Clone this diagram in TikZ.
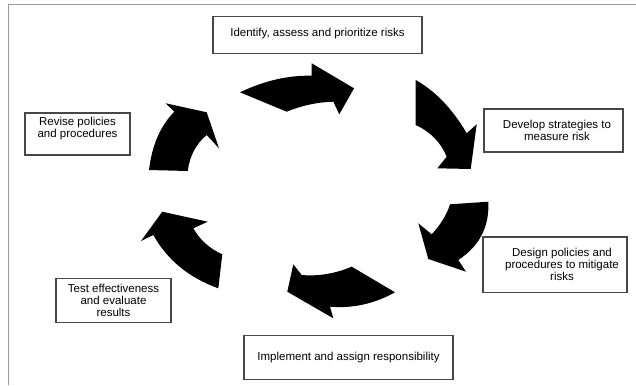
\documentclass[tikz,border=0pt]{standalone}
\usepackage{fontspec}
\setmainfont{Liberation Sans}
\begin{document}
\begin{tikzpicture}[x=1pt,y=-1pt,
  box/.style={draw=black!72, line width=1.1pt, align=center, inner sep=0pt,
    font=\fontsize{11.5}{12}\selectfont},
  cycarrow/.style={fill=black}]
\useasboundingbox (0,0) rectangle (636,385);
% frame
\draw[black!40, line width=1pt] (8,385) -- (8,4.7) -- (636,4.7);
% boxes
\node[box, minimum width=209pt, minimum height=37.3pt, text depth=6pt] (identify) at (317.5,35.3) {Identify, assess and prioritize risks};
\node[box, minimum width=139pt, minimum height=43pt] (develop) at (553.5,130.5) {\hspace*{7pt}Develop strategies to\\\hspace*{7pt}measure risk};
\node[box, minimum width=144pt, minimum height=55.7pt] (design) at (555,264.8) {\hspace*{14pt}Design policies and\\\hspace*{14pt}procedures to mitigate\\\hspace*{14pt}risks};
\node[box, minimum width=209pt, minimum height=43.3pt] (implement) at (348.5,357.4) {Implement and assign responsibility};
\node[box, minimum width=115pt, minimum height=44pt] (test) at (113.5,300.7) {Test effectiveness\\and evaluate\\results};
\node[box, minimum width=105pt, minimum height=42pt, text depth=13pt] (revise) at (77.5,134) {Revise policies\\and procedures};
% arrow 1 (top)
\fill[cycarrow] (240,92.3) .. controls (264.1,80.8) and (288,75.2) .. (311.7,75.7)
  -- (311.7,63.3) -- (354,88.3) -- (339.3,114.3) -- (333.3,101.7)
  .. controls (317.8,102.1) and (302.2,105.4) .. (286.7,111.7) -- cycle;
% arrow 2 (upper right)
\fill[cycarrow] (415.7,80) .. controls (435.5,91.2) and (452.5,108.9) .. (466.7,133.3)
  -- (476.7,124.3) -- (470.7,169) -- (437.3,168.3) -- (446.7,156.7)
  .. controls (440.8,142.3) and (430.4,131.8) .. (415.7,125) -- cycle;
% arrow 3 (lower right)
\fill[cycarrow] (488.3,201.7) .. controls (489.5,226.7) and (479.5,246.1) .. (458.3,260)
  -- (466,271.7) -- (428.3,259) -- (418.3,223.3) -- (431.7,234.3)
  .. controls (440.7,224.6) and (446.8,214.6) .. (450,204.3) -- cycle;
% arrow 4 (bottom)
\fill[cycarrow] (395,292.3) -- (351.7,266.7)
  .. controls (335,273.7) and (318.4,276.4) .. (301.7,275)
  -- (293.3,264.3) -- (287.3,291.7) -- (333.3,318.3) -- (330,306.7)
  .. controls (352.7,308.6) and (374.4,303.8) .. (395,292.3) -- cycle;
% arrow 5 (lower left)
\fill[cycarrow] (222.3,254.3) .. controls (209.6,248.6) and (199.9,239.9) .. (193.3,228.3)
  -- (207.7,221.7) -- (162.3,211.7) -- (141,241) -- (153.3,235)
  .. controls (167.2,259.9) and (188.9,277.7) .. (218.3,288.3) -- cycle;
% arrow 6 (upper left)
\fill[cycarrow] (149,170) .. controls (151.9,145.4) and (160.3,126) .. (174.3,111.7)
  -- (165.7,103.3) -- (206.7,112.3) -- (219,148.3) -- (206.7,135)
  .. controls (196.1,143.7) and (189.8,155.7) .. (187.7,171) -- cycle;
\end{tikzpicture}
\end{document}
